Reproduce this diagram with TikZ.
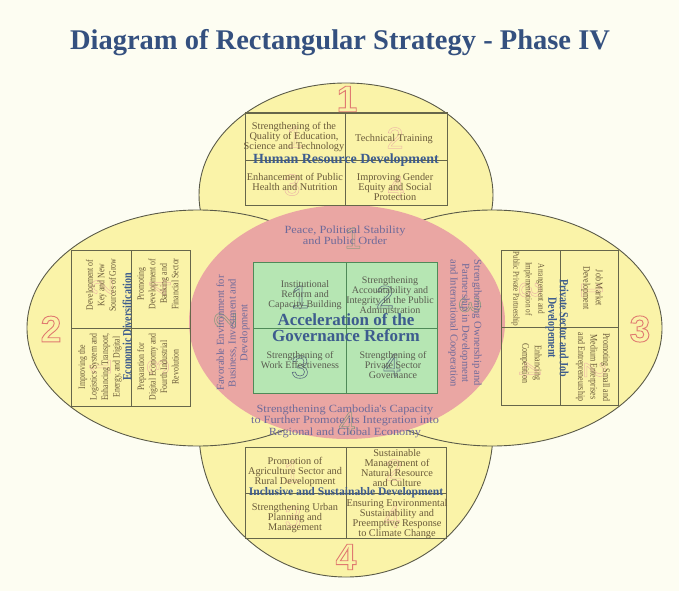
\documentclass[tikz,border=0pt]{standalone}
\usepackage{fontspec}
\setmainfont{Liberation Serif}
\newfontfamily\numfont{Liberation Sans}
\newfontfamily\wideserif[FakeStretch=1.12]{Liberation Serif}
\newfontfamily\narrowserif[FakeStretch=0.8]{Liberation Serif}
\definecolor{bgc}{HTML}{FDFDF2}
\definecolor{petal}{HTML}{FAF3A8}
\definecolor{petalline}{HTML}{5A5A48}
\definecolor{pinkc}{HTML}{EAA6A3}
\definecolor{greenc}{HTML}{B6E6B3}
\definecolor{greenline}{HTML}{4F8A58}
\definecolor{boxline}{HTML}{66664A}
\definecolor{celltext}{HTML}{6A5A3A}
\definecolor{greentext}{HTML}{5A5C50}
\definecolor{headblue}{HTML}{3D5C8E}
\definecolor{titleblue}{HTML}{34507F}
\definecolor{pinktext}{HTML}{6E6A9A}
\definecolor{numred}{HTML}{E07A70}
\definecolor{numfaint}{HTML}{EDB9A6}
\definecolor{numslate}{HTML}{5C6C80}
\definecolor{numgrey}{HTML}{8A9A80}
\newcommand\outl[2][0.8]{\special{pdf:literal 1 Tr #1 w}#2\special{pdf:literal 0 Tr}}
\tikzset{
  petalshape/.style={fill=petal, draw=petalline, line width=0.9pt},
  boxframe/.style={draw=boxline, line width=1pt},
  greenframe/.style={fill=greenc, draw=greenline, line width=1pt},
  greendiv/.style={draw=greenline, line width=0.8pt},
  titlet/.style={text=titleblue, inner sep=0pt, font=\bfseries\fontsize{28.5}{30}\selectfont},
  cellt/.style={text=celltext, align=center, inner sep=0pt, font=\fontsize{10.3}{9.8}\selectfont},
  gcellt/.style={text=greentext, align=center, inner sep=0pt, font=\fontsize{10}{10}\selectfont},
  vcellt/.style={text=celltext, align=center, inner sep=0pt, font=\narrowserif\fontsize{9.8}{11.5}\selectfont},
  rcellt/.style={text=celltext, align=center, inner sep=0pt, font=\narrowserif\fontsize{10}{12.5}\selectfont},
  headt/.style={text=headblue, inner sep=0pt, font=\bfseries\fontsize{14}{14}\selectfont},
  headsmall/.style={text=headblue, inner sep=0pt, font=\bfseries\fontsize{11.6}{12}\selectfont},
  vheadt/.style={text=headblue, align=center, inner sep=0pt, font=\narrowserif\bfseries\fontsize{12.5}{11.5}\selectfont},
  gheadt/.style={text=headblue, align=center, inner sep=0pt, font=\bfseries\fontsize{17}{16}\selectfont},
  ptext/.style={text=pinktext, align=center, inner sep=0pt, font=\wideserif\fontsize{11}{11.4}\selectfont},
  psidetext/.style={text=pinktext, align=center, inner sep=0pt, font=\fontsize{10.6}{11.8}\selectfont},
  bignum/.style={text=numred, inner sep=0pt, font=\numfont\bfseries\fontsize{37}{37}\selectfont},
  faintnum/.style={text=numfaint, inner sep=0pt, font=\numfont\fontsize{30}{30}\selectfont},
  slatenum/.style={text=numslate, inner sep=0pt, font=\numfont\fontsize{32}{32}\selectfont},
  greynum/.style={text=numgrey, inner sep=0pt, font=\numfont\fontsize{30}{30}\selectfont},
}
\begin{document}
\begin{tikzpicture}[x=1pt,y=-1pt]
\useasboundingbox (0,0) rectangle (679,591);
\fill[bgc] (0,0) rectangle (679,591);
\node[titlet] (title) at (340,43) {Diagram of Rectangular Strategy - Phase IV};

% petals
\path[petalshape] (346,195) ellipse [x radius=147pt, y radius=112pt];
\path[petalshape] (346,431) ellipse [x radius=147pt, y radius=146pt];
\path[petalshape] (198,328) ellipse [x radius=171pt, y radius=118pt];
\path[petalshape] (492,328) ellipse [x radius=170pt, y radius=118pt];
\fill[pinkc] (347,322) ellipse [x radius=158pt, y radius=117pt];

% green centre box
\path[greenframe] (253,262) rectangle (437,393);
\draw[greendiv] (346,262) -- (346,393);
\draw[greendiv] (253,328) -- (437,328);

% petal boxes
\draw[boxframe] (245,113) rectangle (447,205);
\draw[boxframe] (345,113) -- (345,205);
\draw[boxframe] (245,160) -- (447,160);
\draw[boxframe] (245,447) rectangle (446,538);
\draw[boxframe] (346,447) -- (346,538);
\draw[boxframe] (245,493) -- (446,493);
\draw[boxframe] (71,250) rectangle (190,406);
\draw[boxframe] (131,250) -- (131,406);
\draw[boxframe] (71,328) -- (190,328);
\draw[boxframe] (501,250) rectangle (618,405);
\draw[boxframe] (560,250) -- (560,405);
\draw[boxframe] (501,327) -- (618,327);

% big petal numbers
\node[bignum] (n1) at (347,99) {\outl[0.9]{1}};
\node[bignum] (n2) at (51,329) {\outl[0.9]{2}};
\node[bignum] (n3) at (640,329) {\outl[0.9]{3}};
\node[bignum] (n4) at (346,557) {\outl[0.9]{4}};

% faint cell numbers
\node[faintnum] (ft1) at (295,137) {\outl[0.5]{1}};
\node[faintnum] (ft2) at (395,138) {\outl[0.5]{2}};
\node[faintnum] (ft3) at (292,185) {\outl[0.5]{3}};
\node[faintnum] (ft4) at (396,187) {\outl[0.5]{4}};
\node[faintnum] (fb1) at (292,472) {\outl[0.5]{1}};
\node[faintnum] (fb2) at (394,470) {\outl[0.5]{2}};
\node[faintnum] (fb3) at (293,517) {\outl[0.5]{3}};
\node[faintnum] (fb4) at (392,517) {\outl[0.5]{4}};
\node[faintnum, rotate=90] (fl1) at (100,367) {\outl[0.5]{1}};
\node[faintnum, rotate=90] (fl2) at (102,287) {\outl[0.5]{2}};
\node[faintnum, rotate=90] (fl3) at (158,367) {\outl[0.5]{3}};
\node[faintnum, rotate=90] (fl4) at (160,287) {\outl[0.5]{4}};
\node[faintnum, rotate=-90] (fr1) at (592,290) {\outl[0.5]{1}};
\node[faintnum, rotate=-90] (fr2) at (595,370) {\outl[0.5]{2}};
\node[faintnum, rotate=-90] (fr3) at (530,290) {\outl[0.5]{3}};
\node[faintnum, rotate=-90] (fr4) at (530,370) {\outl[0.5]{4}};
\node[slatenum] (fg1) at (300,297) {\outl[0.6]{1}};
\node[slatenum] (fg2) at (385,297) {\outl[0.6]{2}};
\node[slatenum] (fg3) at (300,367) {\outl[0.6]{3}};
\node[slatenum] (fg4) at (392,365) {\outl[0.6]{4}};
\node[greynum] (fp1) at (353,238) {\outl[0.6]{1}};
\node[greynum, rotate=90] (fp2) at (225,320) {\outl[0.6]{2}};
\node[greynum, rotate=-90] (fp3) at (470,305) {\outl[0.6]{3}};
\node[greynum] (fp4) at (347,423) {\outl[0.6]{4}};

% top box texts
\node[cellt] (t1) at (294,137) {Strengthening of the\\Quality of Education,\\Science and Technology};
\node[cellt] (t2) at (394,139) {Technical Training};
\node[headt] (th) at (346,160) {Human Resource Development};
\node[cellt] (t3) at (295,182) {Enhancement of Public\\Health and Nutrition};
\node[cellt] (t4) at (395,187) {Improving Gender\\Equity and Social\\Protection};

% bottom box texts
\node[cellt] (b1) at (295,472) {Promotion of\\Agriculture Sector and\\Rural Development};
\node[cellt] (b2) at (397,468) {Sustainable\\Management of\\Natural Resource\\and Culture};
\node[headsmall] (bh) at (346,493) {Inclusive and Sustainable Development};
\node[cellt] (b3) at (295,518) {Strengthening Urban\\Planning and\\Management};
\node[cellt] (b4) at (397,519) {Ensuring Environmental\\Sustainability and\\Preemptive Response\\to Climate Change};

% left box texts
\node[vcellt, rotate=90] (l1) at (101,285) {Development of\\Key and New\\Sources of Grow};
\node[vcellt, rotate=90] (l2) at (158,284) {Promoting\\Development of\\Banking and\\Financial Sector};
\node[vcellt, rotate=90] (l3) at (100,367) {Improving the\\Logistics System and\\Enhancing Transport,\\Energy, and Digital};
\node[vcellt, rotate=90] (l4) at (158,367) {Preparation for\\Digital Economy and\\Fourth Industrial\\Revolution};
\node[vheadt, rotate=90] (lh) at (127,327) {Economic Diversification};

% right box texts
\node[rcellt, rotate=-90] (r1) at (592,288) {Job Market\\Development};
\node[rcellt, rotate=-90] (r2) at (593,367) {Promoting Small and\\Medium Enterprises\\and Entrepreneurship};
\node[rcellt, rotate=-90, font=\narrowserif\fontsize{9}{12.5}\selectfont] (r3) at (528,289) {Arrangement and\\Implementation of\\Public Private Partnership};
\node[rcellt, rotate=-90] (r4) at (531,363) {Enhancing\\Competition};
\node[vheadt, rotate=-90] (rh) at (557,328) {Private Sector and Job\\Developement};

% green box texts
\node[gcellt] (g1) at (305,295) {Institutional\\Reform and\\Capacity Building};
\node[gcellt] (g2) at (390,295) {Strengthening\\Accountability and\\Integrity in the Public\\Administration};
\node[gheadt] (gh) at (346,328) {Acceleration of the\\Governance Reform};
\node[gcellt] (g3) at (300,360) {Strengthening of\\Work Effectiveness};
\node[gcellt] (g4) at (393,365) {Strengthening of\\Private Sector\\Governance};

% pink ellipse texts
\node[ptext] (p1) at (345,235) {Peace, Political Stability\\and Public Order};
\node[ptext] (p4) at (345,421) {Strengthening Cambodia's Capacity\\to Further Promote its Integration into\\Regional and Global Economy};
\node[psidetext, rotate=90] (p2) at (233,333) {Favorable Environment for\\Business, Investment and\\Development};
\node[psidetext, rotate=-90] (p3) at (465,323) {Strengthening Ownership and\\Partnership in Development\\and International Cooperation};
\end{tikzpicture}
\end{document}
